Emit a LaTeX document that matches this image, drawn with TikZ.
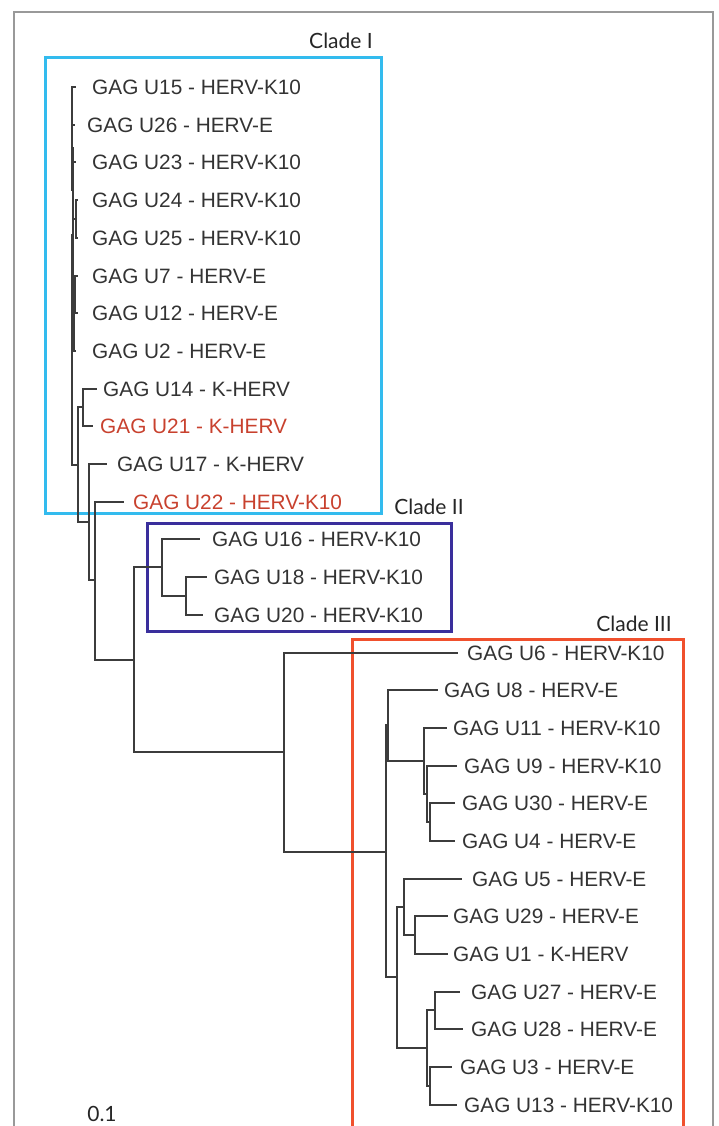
\documentclass[tikz,border=0pt]{standalone}
\usepackage{fontspec}
\setmainfont{Liberation Sans}
\newfontfamily\cladefont{Lato}
\usepackage{tikz}

\definecolor{cladeone}{HTML}{33BBEE}
\definecolor{cladetwo}{HTML}{3A2F9C}
\definecolor{cladethree}{HTML}{F0502D}
\definecolor{labelred}{HTML}{C8412E}
\definecolor{labelgray}{HTML}{333333}
\definecolor{branch}{HTML}{3C3C3C}

\begin{document}
\begin{tikzpicture}[x=1pt, y=-1pt,
		leaf/.style={anchor=west, inner sep=0pt, text=labelgray, font=\fontsize{20.8}{24}\selectfont},
		hit/.style={leaf, text=labelred},
		edge/.style={draw=branch, line width=1.3pt},
		cladebox/.style={line width=3pt},
		cladename/.style={inner sep=0pt, text=black!85, font=\cladefont\fontsize{21}{24}\selectfont}]
				\useasboundingbox (0,0) rectangle (718,1126);
				\draw[black!40, line width=1.5pt] (14,1126) |- (713,12) -- (713,1126);
				
				% clade boxes
				\draw[cladebox, cladeone] (45,58) rectangle (381,513);
				\draw[cladebox, cladetwo] (147,523) rectangle (451,631);
				\draw[cladebox, cladethree] (352,1126) |- (683,639) -- (683,1126);
				\node[cladename] (cI) at (341,41) {Clade I};
				\node[cladename] (cII) at (429,507) {Clade II};
				\node[cladename] (cIII) at (634,624) {Clade III};
				\node[cladename] (scale) at (102,1114) {0.1};
				
				% leaves
				\node[leaf] (u15) at (92,87) {GAG U15 - HERV-K10};
				\node[leaf] (u26) at (87,125) {GAG U26 - HERV-E};
				\node[leaf] (u23) at (92,162) {GAG U23 - HERV-K10};
				\node[leaf] (u24) at (92,200) {GAG U24 - HERV-K10};
				\node[leaf] (u25) at (92,238) {GAG U25 - HERV-K10};
				\node[leaf] (u7) at (92,276) {GAG U7 - HERV-E};
				\node[leaf] (u12) at (92,313) {GAG U12 - HERV-E};
				\node[leaf] (u2) at (92,351) {GAG U2 - HERV-E};
				\node[leaf] (u14) at (103,389) {GAG U14 - K-HERV};
				\node[hit] (u21) at (100,426) {GAG U21 - K-HERV};
				\node[leaf] (u17) at (117,464) {GAG U17 - K-HERV};
				\node[hit] (u22) at (133,502) {GAG U22 - HERV-K10};
				\node[leaf] (u16) at (212,539) {GAG U16 - HERV-K10};
				\node[leaf] (u18) at (214,577) {GAG U18 - HERV-K10};
				\node[leaf] (u20) at (214,615) {GAG U20 - HERV-K10};
				\node[leaf] (u6) at (467,653) {GAG U6 - HERV-K10};
				\node[leaf] (u8) at (444,690) {GAG U8 - HERV-E};
				\node[leaf] (u11) at (453,728) {GAG U11 - HERV-K10};
				\node[leaf] (u9) at (464,766) {GAG U9 - HERV-K10};
				\node[leaf] (u30) at (462,803) {GAG U30 - HERV-E};
				\node[leaf] (u4) at (462,841) {GAG U4 - HERV-E};
				\node[leaf] (u5) at (472,879) {GAG U5 - HERV-E};
				\node[leaf] (u29) at (453,916) {GAG U29 - HERV-E};
				\node[leaf] (u1) at (453,954) {GAG U1 - K-HERV};
				\node[leaf] (u27) at (471,992) {GAG U27 - HERV-E};
				\node[leaf] (u28) at (471,1029) {GAG U28 - HERV-E};
				\node[leaf] (u3) at (460,1067) {GAG U3 - HERV-E};
				\node[leaf] (u13) at (464,1105) {GAG U13 - HERV-K10};
				
				% tips
				\coordinate (t15) at (76,87);
				\coordinate (t26) at (75,125);
				\coordinate (t23) at (76,162);
				\coordinate (t24) at (78,200);
				\coordinate (t25) at (78,238);
				\coordinate (t7) at (78,276);
				\coordinate (t12) at (78,313);
				\coordinate (t2) at (76,351);
				\coordinate (t14) at (97,389);
				\coordinate (t21) at (93,426);
				\coordinate (t17) at (107,464);
				\coordinate (t22) at (124,502);
				\coordinate (t16) at (200,539);
				\coordinate (t18) at (207,577);
				\coordinate (t20) at (203,615);
				\coordinate (t6) at (458,653);
				\coordinate (t8) at (438,690);
				\coordinate (t11) at (447,728);
				\coordinate (t9) at (457,766);
				\coordinate (t30) at (455,803);
				\coordinate (t4) at (455,841);
				\coordinate (t5) at (462,879);
				\coordinate (t29) at (448,916);
				\coordinate (t1) at (448,954);
				\coordinate (t27) at (460,992);
				\coordinate (t28) at (463,1029);
				\coordinate (t3) at (452,1067);
				\coordinate (t13) at (457,1105);
				
				% internal nodes
				\coordinate (c1a) at (72,106);
				\coordinate (c1b) at (73,190);
				\coordinate (c1c) at (76,219);
				\coordinate (c1d) at (75,294);
				\coordinate (c1e) at (72,148);
				\coordinate (c1f) at (74,322);
				\coordinate (c1g) at (73,235);
				\coordinate (root) at (72,350);
				\coordinate (c1h) at (78,465);
				\coordinate (c1i) at (83,407);
				\coordinate (c1j) at (89,522);
				\coordinate (c1k) at (95,580);
				\coordinate (c2r) at (134,660);
				\coordinate (c2a) at (162,567);
				\coordinate (c2b) at (186,596);
				\coordinate (c3a) at (284,752);
				\coordinate (c3b) at (386,852);
				\coordinate (c3k) at (388,725);
				\coordinate (c3c) at (424,761);
				\coordinate (c3l) at (427,794);
				\coordinate (c3d) at (430,822);
				\coordinate (c3e) at (397,977);
				\coordinate (c3f) at (404,907);
				\coordinate (c3g) at (415,935);
				\coordinate (c3h) at (427,1048);
				\coordinate (c3i) at (435,1010);
				\coordinate (c3j) at (430,1086);
				
				% clade I
				\draw[edge] (c1a) |- (t15);
				\draw[edge] (c1a) |- (t26);
				\draw[edge] (c1c) |- (t24);
				\draw[edge] (c1c) |- (t25);
				\draw[edge] (c1b) |- (t23);
				\draw[edge] (c1b) |- (c1c);
				\draw[edge] (c1d) |- (t7);
				\draw[edge] (c1d) |- (t12);
				\draw[edge] (c1e) |- (c1a);
				\draw[edge] (c1e) |- (c1b);
				\draw[edge] (c1f) |- (c1d);
				\draw[edge] (c1f) |- (t2);
				\draw[edge] (c1g) |- (c1e);
				\draw[edge] (c1g) |- (c1f);
				\draw[edge] (root) |- (c1g);
				\draw[edge] (root) |- (c1h);
				\draw[edge] (c1h) |- (c1i);
				\draw[edge] (c1h) |- (c1j);
				\draw[edge] (c1i) |- (t14);
				\draw[edge] (c1i) |- (t21);
				\draw[edge] (c1j) |- (t17);
				\draw[edge] (c1j) |- (c1k);
				\draw[edge] (c1k) |- (t22);
				\draw[edge] (c1k) |- (c2r);
				
				% clade II
				\draw[edge] (c2r) |- (c2a);
				\draw[edge] (c2r) |- (c3a);
				\draw[edge] (c2a) |- (t16);
				\draw[edge] (c2a) |- (c2b);
				\draw[edge] (c2b) |- (t18);
				\draw[edge] (c2b) |- (t20);
				
				% clade III
				\draw[edge] (c3a) |- (t6);
				\draw[edge] (c3a) |- (c3b);
				\draw[edge] (c3b) |- (c3k);
				\draw[edge] (c3b) |- (c3e);
				\draw[edge] (c3k) |- (t8);
				\draw[edge] (c3k) |- (c3c);
				\draw[edge] (c3c) |- (t11);
				\draw[edge] (c3c) |- (c3l);
				\draw[edge] (c3l) |- (t9);
				\draw[edge] (c3l) |- (c3d);
				\draw[edge] (c3d) |- (t30);
				\draw[edge] (c3d) |- (t4);
				\draw[edge] (c3e) |- (c3f);
				\draw[edge] (c3e) |- (c3h);
				\draw[edge] (c3f) |- (t5);
				\draw[edge] (c3f) |- (c3g);
				\draw[edge] (c3g) |- (t29);
				\draw[edge] (c3g) |- (t1);
				\draw[edge] (c3h) |- (c3i);
				\draw[edge] (c3h) |- (c3j);
				\draw[edge] (c3i) |- (t27);
				\draw[edge] (c3i) |- (t28);
				\draw[edge] (c3j) |- (t3);
				\draw[edge] (c3j) |- (t13);
			\end{tikzpicture}
\end{document}
